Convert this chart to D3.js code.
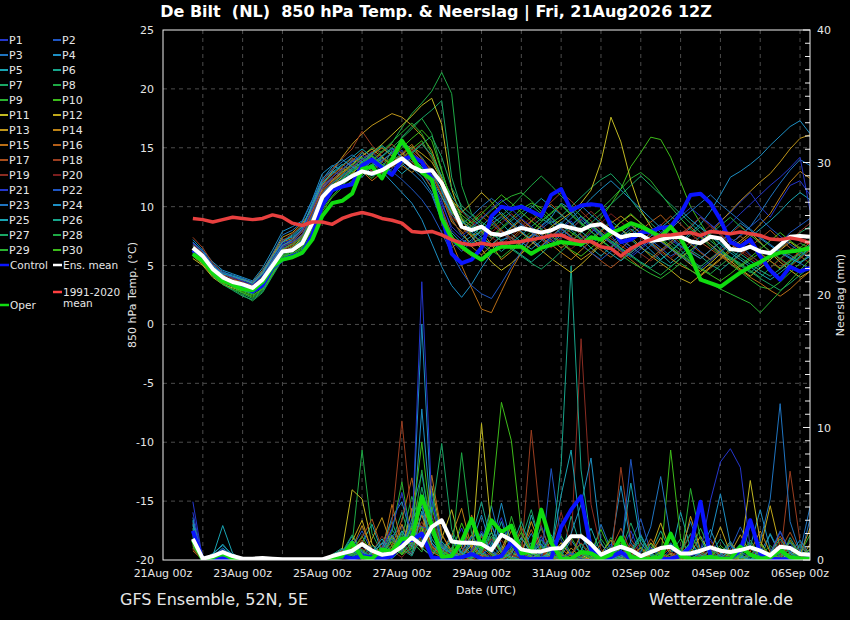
<!DOCTYPE html>
<meta charset="utf-8">
<style>
  body { margin: 0; background: #000; }
  svg text { font-family: "DejaVu Sans", sans-serif; fill: #e6e6e6; }
  .grid line { stroke: #4c4c4c; stroke-dasharray: 4,4; stroke-width: 1; }
</style>
<script src="https://d3js.org/d3.v7.min.js"></script>
<div id="chart"></div>
<script>
// ---- data (6-hourly, first value 21Aug 18z) ----
const firstStep = "2026-08-21T18:00:00Z";
const stepHours = 6;
const dateTicks = ["2026-08-21","2026-08-23","2026-08-25","2026-08-27","2026-08-29",
                   "2026-08-31","2026-09-02","2026-09-04","2026-09-06"];
const tempTicks = [-20,-15,-10,-5,0,5,10,15,20,25];
const precTicks = [0,10,20,30,40];

// 850 hPa temperature, members P1..P30
const tempMembers = [
 [6.8,6.0,4.9,4.2,3.5,3.2,2.8,3.5,5.2,6.5,6.8,7.5,9.2, 11.5,12.4,12.0,13.1,13.8,13.0,12.5,14.2,14.8,13.5,12.8,12.0,10.5, 8.0,7.2,6.8,7.5,8.6,9.1,8.4,7.9,7.0,6.5,7.2,8.1, 8.8,7.5,6.9,7.4,8.2,7.0,6.3,6.8,7.9,8.5,7.2,6.6, 6.0,7.1,8.0,8.8,9.5,10.4,11.2,10.0,9.1,10.5,11.8,12.2,11.0],
 [6.4,5.7,4.5,3.9,3.8,3.6,3.3,4.1,5.4,6.8,7.0,7.9,9.8, 11.9,12.3,13.0,12.4,13.5,13.9,12.8,13.2,14.6,13.8,14.0,12.5,9.8, 7.1,6.2,7.0,8.1,8.7,7.9,7.1,6.8,7.5,8.3,9.0,8.2, 7.4,6.9,7.8,8.5,7.6,6.4,5.9,6.6,7.2,6.5,5.8,6.3, 7.0,6.2,5.5,6.4,7.3,6.8,5.9,5.2,6.0,6.9,7.8,8.4,9.0],
 [6.9,6.2,5.1,4.5,4.1,3.9,3.5,4.4,5.8,7.2,7.4,8.1,10.2, 12.2,13.0,12.6,13.8,14.1,13.3,13.9,14.5,13.7,12.9,12.1,11.0,8.8, 6.5,7.2,7.9,6.8,6.1,7.0,7.8,8.5,7.9,7.3,6.6,7.4, 8.1,8.9,8.2,7.5,6.9,7.6,8.4,7.8,6.9,6.2,6.8,7.5, 8.2,9.1,8.5,7.6,6.9,7.5,8.3,9.5,10.8,12.0,13.1,14.0,13.5],
 [7.2,6.3,5.3,4.6,4.3,4.0,3.7,4.8,6.3,7.9,8.3,8.8,10.6, 12.8,13.5,13.1,14.0,13.2,12.6,13.0,12.1,11.2,10.3,8.9,6.9,4.9, 3.3,2.3,3.4,4.8,6.0,7.2,7.4,6.7,7.5,8.4,9.1,10.3, 9.8,8.7,7.9,7.2,6.5,5.8,6.4,7.1,6.3,5.5,6.2,7.0, 7.8,8.5,9.6,11.0,12.5,13.0,13.6,14.3,15.2,16.0,16.8,17.3,16.2],
 [6.6,5.9,5.0,4.3,3.9,3.5,3.4,4.3,5.6,7.0,7.6,8.4,10.0, 12.0,12.9,13.6,13.0,12.5,13.4,14.1,13.6,12.8,13.5,12.9,11.6,9.4, 7.8,6.9,7.5,8.3,9.2,8.6,7.7,7.0,6.4,7.1,7.9,8.7, 8.0,7.3,6.5,5.8,6.6,7.4,8.1,7.5,6.8,6.0,5.2,5.9, 6.7,7.5,6.8,6.1,5.5,6.3,7.4,8.1,8.8,9.6,10.5,11.2,10.6],
 [7.0,6.1,4.8,4.0,3.4,3.0,2.7,3.3,4.7,6.0,6.4,7.2,9.0, 11.2,12.0,12.7,13.5,14.6,14.0,13.2,14.8,15.5,14.9,14.2,13.0,11.3, 9.0,7.6,6.9,7.3,6.8,6.2,6.9,7.6,8.3,9.0,8.5,7.7, 7.0,6.6,7.3,8.0,8.8,8.1,7.2,6.5,6.0,5.4,4.9,5.6, 6.3,5.8,5.1,4.6,5.3,6.0,5.4,4.8,5.5,6.2,5.9,5.3,5.8],
 [6.3,5.6,4.6,3.7,3.2,2.6,2.2,2.9,4.4,5.8,6.0,6.5,7.8, 10.2,11.5,12.3,13.2,13.8,14.5,15.1,14.3,15.9,16.8,17.5,18.2,19.0, 12.5,9.8,8.6,8.0,7.3,8.1,8.8,9.5,10.1,9.4,8.6,9.2, 10.0,10.8,11.6,12.3,12.8,11.9,10.6,9.5,8.6,7.8,7.0,6.3, 5.5,4.9,5.6,6.2,5.7,5.0,4.4,5.1,5.8,6.5,7.1,7.8,8.3],
 [6.0,5.3,4.2,3.5,3.0,2.5,2.0,2.7,4.1,5.5,6.4,7.5,9.1, 11.0,12.1,13.0,13.9,14.3,15.0,14.6,15.4,16.7,17.9,18.8,19.8,21.4, 19.6,11.8,9.4,8.7,8.1,8.9,9.6,10.2,9.5,8.8,9.4,10.1, 9.3,8.5,7.9,7.1,6.5,7.2,7.9,8.6,8.0,7.3,6.7,6.0, 5.4,4.8,4.3,5.0,5.7,5.2,4.6,4.0,4.8,5.6,6.3,6.9,6.5],
 [6.2,5.5,4.4,3.8,3.3,2.9,2.6,3.2,4.6,5.9,6.2,6.8,8.3, 10.5,11.3,12.0,12.8,13.1,12.4,13.3,13.9,14.5,14.0,13.3,12.6,11.5, 9.9,8.7,8.2,8.9,9.7,10.4,10.9,11.2,10.5,9.6,8.8,8.1, 7.5,8.3,9.1,9.8,10.6,11.5,12.4,12.9,12.2,11.1,10.0,9.0, 8.1,7.4,6.6,5.9,5.1,4.5,3.8,3.2,3.0,3.6,4.4,5.2,6.0],
 [5.9,5.2,4.3,3.6,3.2,2.8,2.5,3.0,4.3,5.6,5.9,6.4,7.6, 9.6,10.8,11.6,12.2,12.7,13.5,14.2,13.4,14.0,14.9,15.6,14.1,12.4, 10.1,8.9,8.4,8.0,7.5,8.2,9.0,9.8,10.3,9.9,9.1,8.4, 7.8,7.2,8.1,9.0,10.2,11.5,13.4,14.6,15.9,15.7,14.2,12.1, 10.0,8.6,7.4,6.3,5.6,4.9,5.5,6.1,5.4,4.7,5.3,6.0,6.4],
 [5.6,5.0,4.0,3.4,3.1,2.9,2.7,3.4,4.8,6.1,6.6,7.3,8.9, 10.9,11.8,12.5,13.3,14.0,14.6,15.3,16.1,16.9,17.7,18.6,19.2,17.0, 11.5,9.0,7.5,6.4,5.3,4.6,5.2,6.0,6.8,7.5,8.3,8.9, 9.5,10.3,11.4,13.8,17.6,15.5,12.2,9.7,8.3,7.2,6.5,5.8, 5.1,4.5,5.2,6.0,5.4,4.7,4.1,4.8,5.5,6.3,7.0,6.4,6.2],
 [6.1,5.4,4.3,3.6,3.4,3.1,2.9,3.6,5.0,6.3,6.9,7.6,9.4, 11.4,12.2,12.9,13.6,14.3,14.9,14.2,13.6,14.4,15.1,14.5,13.8,12.3, 10.6,9.5,10.3,11.2,10.4,9.3,8.5,7.8,7.1,6.3,5.6,5.0, 4.4,5.1,5.9,6.8,7.5,8.1,7.4,6.6,5.8,5.2,4.6,3.9, 3.5,4.2,4.9,5.6,6.4,7.1,7.8,7.0,6.1,5.3,4.6,4.0,4.5],
 [5.8,5.1,4.1,3.6,3.7,3.8,3.5,4.4,5.9,7.4,7.8,8.6,9.8, 11.8,13.0,14.2,15.3,16.2,16.9,17.4,17.9,17.6,16.9,16.0,14.8,12.4, 9.8,8.2,7.5,7.9,6.8,5.5,6.2,7.0,7.6,8.4,7.7,7.0, 6.2,5.5,6.1,6.9,7.8,8.7,9.3,8.6,7.8,7.1,6.4,5.7, 6.3,7.0,7.8,8.7,9.6,10.5,11.3,12.1,12.8,13.8,14.9,15.8,16.1],
 [6.6,5.9,4.8,4.2,4.0,3.8,3.6,4.6,5.9,7.0,7.3,8.0,9.7, 11.6,12.5,13.3,12.8,13.6,14.4,15.0,14.3,13.5,12.9,13.6,12.7,10.9, 8.7,7.9,6.6,5.9,6.7,7.5,8.2,8.9,8.2,7.4,6.8,6.1, 5.5,6.3,7.1,7.9,8.6,9.2,8.5,7.7,7.0,6.3,5.6,5.0, 4.6,4.1,4.8,5.5,6.2,6.9,7.6,8.5,9.4,10.8,12.1,13.0,12.4],
 [6.0,5.3,4.2,3.5,3.3,3.2,3.0,3.8,5.1,6.4,6.8,7.4,9.0, 11.0,12.0,12.8,13.6,13.0,12.2,12.9,13.7,14.5,15.3,14.0,12.1,9.6, 7.0,5.0,3.1,1.3,1.0,2.8,4.6,6.1,7.3,8.0,7.2,6.5, 7.1,7.8,8.5,7.7,6.9,6.2,5.5,4.8,5.6,6.3,7.0,7.7, 8.3,7.5,6.8,6.0,5.2,4.6,4.0,3.5,2.9,2.4,3.0,3.8,4.5],
 [6.7,6.0,4.9,4.1,3.6,3.3,3.0,3.7,5.2,6.7,7.1,7.9,9.6, 11.8,12.7,13.4,14.1,13.7,13.0,13.8,14.6,15.4,14.7,13.9,13.2,11.7, 9.4,8.1,8.8,9.6,8.9,8.0,7.3,8.1,8.8,9.5,10.2,9.4, 8.5,7.6,6.9,6.3,5.7,6.4,7.2,8.0,8.7,9.3,8.4,7.6, 6.8,6.1,5.5,6.2,6.9,7.5,6.8,6.0,5.4,4.8,5.5,6.2,7.0],
 [6.5,5.8,4.6,3.9,3.4,3.1,2.9,3.7,5.1,6.3,6.7,7.5,9.1, 11.2,12.3,13.1,13.9,14.7,13.9,14.6,15.3,14.5,13.8,12.9,11.6,9.9, 7.6,6.4,5.8,6.5,7.2,8.0,7.3,6.6,5.9,6.7,7.5,8.2, 7.5,6.8,6.1,5.4,4.8,5.5,6.2,6.9,7.7,8.4,9.2,8.5, 7.7,7.0,6.4,5.8,5.2,5.9,6.6,7.3,8.0,7.2,6.5,5.8,5.2],
 [7.4,6.5,5.2,4.4,3.8,3.4,3.1,3.9,5.5,7.1,7.7,8.4,10.1, 12.1,13.2,14.1,14.9,16.4,15.2,14.3,13.5,14.2,14.9,14.1,13.0,11.0, 8.9,7.7,8.4,9.2,8.5,7.8,7.1,7.9,8.7,9.6,10.4,11.2, 10.5,9.6,8.8,8.0,7.3,6.7,6.1,6.8,7.5,8.3,7.6,6.9, 6.2,5.6,6.3,7.0,7.7,8.4,7.6,6.9,6.2,5.5,4.9,5.6,6.3],
 [6.8,6.1,5.0,4.3,3.9,3.6,3.3,4.0,5.4,6.6,6.9,7.7,9.4, 11.3,12.1,12.8,13.4,14.0,14.7,14.0,13.3,14.0,14.7,15.4,14.2,12.2, 9.1,8.3,7.6,7.0,7.8,8.6,9.4,8.7,7.9,7.2,6.5,7.3, 8.1,8.9,9.6,8.8,8.0,7.3,6.6,6.0,5.4,6.1,6.8,7.6, 8.4,9.1,8.3,7.6,6.9,6.2,5.6,5.0,5.7,6.4,7.1,7.9,8.6],
 [6.2,5.5,4.4,3.7,3.3,3.0,2.8,3.5,4.9,6.2,6.5,7.1,8.7, 10.6,11.4,12.0,12.6,13.3,14.0,13.4,12.8,13.6,14.4,13.7,13.0,11.9, 10.4,9.6,8.8,8.1,7.4,6.8,7.5,8.3,9.1,8.4,7.7,7.0, 6.4,7.1,7.9,8.6,9.4,8.7,8.0,7.3,6.7,6.1,5.6,6.3, 7.0,7.7,8.4,7.7,7.0,6.4,5.8,5.3,4.8,5.5,6.2,6.9,7.5],
 [6.9,6.2,5.0,4.3,4.0,3.7,3.4,4.2,5.6,6.9,7.2,8.0,9.8, 11.7,12.5,13.2,13.8,14.4,13.7,14.3,14.9,14.2,13.5,12.8,12.1,10.2, 8.3,7.5,8.2,9.0,9.8,10.6,9.8,9.0,8.3,7.6,7.0,7.7, 8.4,9.1,8.3,7.6,6.9,6.3,5.7,6.4,7.1,7.8,8.5,9.2, 9.9,9.2,8.5,7.8,8.6,9.4,10.2,11.0,11.8,12.5,13.3,14.2,9.7],
 [6.3,5.6,4.5,3.8,3.5,3.3,3.1,3.9,5.3,6.6,7.0,7.6,9.3, 11.1,12.0,12.6,13.3,14.0,14.6,13.8,13.0,12.3,11.5,10.6,9.4,7.8, 6.0,4.5,3.3,2.6,2.2,3.5,4.9,6.2,7.4,8.1,8.8,8.1, 7.4,6.8,6.1,5.5,6.2,6.9,7.6,8.3,7.7,7.0,6.4,5.8, 5.2,4.7,5.4,6.1,6.8,7.6,8.3,9.0,8.2,7.5,6.8,6.2,5.6],
 [7.0,6.2,5.0,4.4,4.2,3.9,3.6,4.5,6.0,7.6,8.0,8.7,10.5, 12.4,13.1,13.8,14.4,13.8,13.2,13.9,14.6,15.2,14.5,13.7,12.9,11.4, 9.3,8.5,9.2,10.0,10.7,10.0,9.2,8.5,7.8,7.2,7.9,8.6, 9.4,10.1,9.3,8.6,7.9,7.2,6.6,6.0,6.7,7.4,8.1,8.9, 9.6,10.3,11.0,10.2,9.5,8.8,8.1,7.4,6.8,6.2,5.7,5.2,4.7],
 [6.4,5.8,4.7,4.1,3.7,3.4,3.2,4.0,5.4,6.7,7.2,8.2,10.3, 12.3,13.4,14.0,13.4,12.9,13.6,14.3,15.0,14.2,13.3,12.5,11.2,9.0, 7.2,6.5,7.2,8.0,8.8,9.5,8.7,7.9,7.2,6.6,7.4,8.2, 9.0,9.8,10.7,11.5,12.2,11.4,10.6,9.8,9.0,8.2,7.4,6.7, 6.1,5.6,6.3,7.0,7.8,8.6,8.0,7.3,6.7,6.1,5.6,5.2,5.8],
 [6.7,6.0,4.9,4.3,4.1,3.8,3.5,4.3,5.7,7.0,7.5,8.3,10.1, 12.0,12.8,13.5,14.2,14.9,14.2,13.5,12.8,13.5,14.2,13.4,12.3,10.8, 9.5,8.8,8.1,7.4,6.8,7.5,8.3,9.1,9.9,10.7,10.0,9.3, 8.6,7.9,7.2,6.6,6.0,5.4,6.1,6.8,7.5,8.2,8.9,9.7, 8.9,8.2,7.5,6.8,6.1,5.5,4.9,4.3,3.8,4.4,5.1,5.8,6.5],
 [6.1,5.4,4.3,3.6,3.2,2.9,2.6,3.3,4.8,6.1,6.5,7.2,8.8, 10.7,11.6,12.4,13.1,13.8,14.5,15.2,14.5,13.8,14.6,15.3,14.4,12.6, 10.9,9.7,9.0,8.3,7.7,7.1,6.5,5.9,5.3,6.0,6.8,7.6, 8.4,9.2,8.5,7.8,7.1,6.5,5.9,5.3,4.8,5.5,6.2,6.9, 7.6,8.3,7.6,6.9,6.3,5.7,5.1,4.6,4.1,4.7,5.4,6.1,6.8],
 [6.0,5.3,4.2,3.4,2.9,2.4,2.1,2.8,4.2,5.6,6.1,6.9,8.5, 10.4,11.4,12.3,13.0,13.7,14.4,13.6,12.9,13.7,14.5,15.3,16.0,14.2, 11.6,10.1,9.3,8.5,7.8,7.1,6.4,5.8,5.2,4.7,5.4,6.2, 7.0,7.8,8.6,9.4,10.2,11.0,11.8,12.6,11.8,11.0,10.2,9.4, 8.6,7.8,7.1,6.4,5.7,5.1,4.5,3.9,3.4,2.9,3.5,4.2,4.9],
 [6.4,5.7,4.6,3.9,3.4,3.0,2.7,3.5,5.0,6.4,6.8,7.4,9.0, 10.9,11.9,12.7,13.5,14.2,13.5,14.2,15.0,15.8,16.6,17.5,16.2,13.1, 10.3,9.1,8.3,7.6,8.4,9.2,10.0,10.9,11.8,12.6,11.8,10.9, 10.0,9.2,8.4,7.7,7.0,6.4,5.8,5.2,4.7,4.2,4.9,5.6, 6.3,7.0,7.7,8.4,9.1,8.3,7.6,6.9,6.2,5.6,5.0,5.7,6.4],
 [5.8,5.2,4.1,3.4,3.0,2.7,2.4,3.1,4.5,5.8,6.2,6.7,8.0, 9.8,10.9,11.8,12.5,13.2,13.9,14.7,15.5,16.3,17.1,16.2,14.5,12.0, 9.6,8.4,7.7,7.0,6.3,5.7,6.4,7.1,7.9,8.7,9.5,10.2, 9.4,8.6,7.9,7.2,6.5,5.9,5.3,4.8,4.3,3.9,4.5,5.2, 4.6,4.0,3.5,3.0,2.6,2.2,1.8,1.0,1.9,2.8,3.7,4.6,5.5],
 [6.3,5.6,4.5,3.7,3.2,2.7,2.3,3.0,4.3,5.7,6.0,6.6,8.1, 10.1,11.2,12.0,12.9,13.6,14.3,13.5,14.2,15.0,15.8,16.5,15.6,13.0, 10.5,9.3,8.6,9.4,10.2,11.0,10.3,9.5,8.8,8.1,7.5,6.9, 6.3,5.8,6.5,7.2,8.0,8.7,9.4,8.6,7.9,7.2,6.5,5.9, 5.3,4.7,4.2,3.7,4.3,5.0,5.7,6.4,7.1,7.8,7.1,6.5,7.2]
];
const tempControl = [6.3,5.6,4.5,3.8,3.5,3.2,2.8,3.3,4.8,5.5,5.8,6.1,7.6, 10.1,11.4,11.7,11.9,13.5,14.0,13.3,12.7,14.0,14.3,13.8,12.4,9.2, 6.0,5.2,5.5,6.5,9.2,10.0,9.8,10.0,9.6,9.2,11.0,11.5, 9.7,10.1,10.2,10.1,8.4,7.0,7.2,7.8,7.9,8.2,8.3,9.4, 11.0,11.1,10.3,8.9,7.0,6.6,7.2,5.8,4.6,3.8,4.9,4.5,4.8];
const tempOper = [6.0,5.4,4.4,3.7,3.4,3.0,2.9,3.6,4.9,5.5,5.7,6.1,7.2, 9.2,10.3,10.5,11.1,13.2,13.4,12.4,14.0,15.6,14.3,12.9,12.3,9.0, 7.3,6.6,6.0,5.5,6.2,6.6,6.6,6.6,6.0,6.5,6.75,7.0, 6.9,6.8,7.4,7.2,7.8,8.1,8.6,8.3,7.9,7.45,8.3,7.3, 5.8,3.8,3.5,3.2,3.8,4.4,4.9,5.3,5.8,6.1,6.2,6.3,6.5];
const tempMean = [6.5,5.8,4.7,4.0,3.6,3.4,3.1,3.8,5.0,6.2,6.3,6.9,8.6, 10.8,11.7,12.1,12.6,13.0,12.8,13.1,13.6,14.1,13.4,13.0,13.1,12.0, 10.2,8.3,8.0,8.3,7.7,7.6,7.9,8.2,8.0,7.8,8.0,8.4, 8.2,8.0,8.4,8.5,7.9,7.4,7.6,7.6,7.1,7.2,7.4,7.45, 7.05,6.9,7.45,7.3,6.4,6.3,6.6,6.2,6.05,6.75,7.45,7.5,7.45];
const tempClimate = [9.0,8.9,8.7,8.9,9.1,9.0,8.9,9.0,9.3,9.1,8.6,8.4,8.7, 8.7,8.5,9.0,9.3,9.5,9.3,9.0,8.85,8.6,7.9,7.8,7.9,7.6, 7.2,6.9,6.75,6.9,6.75,6.9,6.95,7.05,7.2,7.35,7.55,7.6, 7.2,7.05,7.05,6.6,6.45,5.8,6.45,6.9,7.2,7.55,7.6,7.7, 7.8,7.55,7.9,7.8,7.7,7.85,7.7,7.55,7.25,7.2,7.35,7.2,6.9];

// precipitation (mm per 6 h), members P1..P30
const precMembers = [
 [4.4,0,0.3,0.8,0.2,0,0,0,0,0,0,0,0, 0,0.2,0.6,1.5,0.4,0,0.3,1.8,2.6,0.9,3.5,1.2,0.4, 0.8,2.4,0.6,0.2,1.5,3.2,0.9,0.1,0,0.4,1.1,0.3, 0.2,1.8,0.5,0,0.1,0.6,2.2,0.4,0,0,0.8,0.3, 0,0.5,1.6,0.2,0,1.2,0.4,0,0.3,2.1,0.6,0,0.2],
 [2.0,0,0.2,0.5,0.1,0,0,0,0,0,0,0,0, 0,0,0.4,0.9,2.2,0.6,0.1,0.7,1.4,0.5,2.1,4.6,1.0, 0.3,0.9,2.8,0.7,0.2,1.0,0.4,0,0.2,2.6,0.5,0.1, 0,0.3,0.9,0.2,0,0,1.4,3.1,0.6,0,0.2,0.5, 1.2,0.3,0,0,0.8,2.5,0.9,0.1,0,0.4,1.3,0.2,0],
 [3.2,0,0.1,0.4,0.3,0,0,0,0,0,0,0,0, 0,0.1,0.3,0.6,1.1,0.3,0.8,2.3,1.2,3.7,6.5,2.0,0.7, 1.9,0.5,0.2,1.3,4.1,1.0,0.3,0,0.5,1.8,0.4,0, 0.6,0.2,0,2.7,0.8,0.1,0,0.3,1.0,0.2,0,0.7, 2.9,0.6,0,0.3,1.1,0.2,0,0.6,1.9,0.4,0.1,0,3.1],
 [2.6,0,0.5,1.1,0.4,0,0,0,0,0,0,0,0, 0,0.3,0.5,1.8,0.6,0.2,0.9,3.2,4.4,1.6,17.8,3.3,1.1, 0.4,0.2,1.2,3.4,0.8,0.1,0,0.6,2.0,0.5,0.1,0.3, 1.5,0.4,0,0.2,0.9,5.6,1.3,0.2,0,0.4,1.2,0.3, 0,0.7,2.3,0.5,0,0.2,1.0,3.8,0.8,0,0.2,0.6,0.4],
 [3.0,0,0.3,2.6,0.5,0,0,0,0,0,0,0,0, 0,0,0.2,0.5,1.3,2.7,0.6,0.4,1.5,2.4,4.0,1.6,0.5, 0.1,1.4,0.4,0,0.7,2.9,0.6,0.2,3.4,1.1,0.3,0, 0.2,0.7,2.4,0.5,0,0.1,0.8,1.9,0.4,0,0.2,3.6, 0.9,0.2,0,0.5,1.4,0.3,0,0,2.0,0.5,0.1,0.7,0.3],
 [1.8,0,0.1,0.2,0,0,0,0,0,0,0,0,0, 0,0.4,0.9,0.3,0.1,0.5,1.2,2.9,0.8,0.3,1.9,5.2,1.4, 0.6,0.2,1.7,4.4,1.2,0.3,0,0.4,1.3,0.5,0.1,0, 3.3,0.9,0.2,0,0.3,1.1,0.4,0,0.5,2.2,0.6,0.1, 0,0,0.4,1.6,0.5,0.1,0,0.9,0.3,0,1.7,0.4,0.2],
 [2.4,0,0,0.3,0.1,0,0,0,0,0,0,0,0, 0,0,0.6,1.9,0.7,0.2,0.4,1.4,3.6,1.2,5.5,2.2,0.8, 0.3,0.9,0.2,0.6,2.1,0.5,0.1,1.5,3.8,1.0,0.2,0, 0.4,1.2,0.3,0,0,0.6,2.8,0.8,0.1,0,0.5,1.6, 0.4,0,0.2,0.9,0.2,0,2.6,0.7,0.1,0,0.3,1.2,0.4],
 [1.4,0,0.2,0.4,0.1,0,0,0,0,0,0,0,0, 0,0.2,0.5,1.2,8.3,2.0,0.5,0.3,1.7,4.8,2.3,0.7,0.2, 1.5,0.4,0.1,0.9,2.7,0.6,0.2,0,0.8,2.4,0.6,0.1, 0,0.3,1.3,0.4,0,0.2,0.9,0.3,0,0.6,2.0,0.5, 0.1,0,0.8,0.3,0,0.4,1.5,0.4,0,0.2,0.9,0.2,0],
 [1.6,0,0.1,0.3,0,0,0,0,0,0,0,0,0, 0,0,0.3,0.8,0.3,0.1,0.7,2.1,5.9,1.4,0.6,3.0,1.2, 0.4,0.1,0.6,2.0,0.5,0.1,3.3,0.9,0.2,0,0.5,1.8, 0.5,0.1,0,0.4,1.7,0.5,0,0.2,0.8,0.2,0,0.3, 1.4,0.4,0,0,0.6,0.2,0,0.3,1.1,0.3,0,0.5,1.9],
 [1.3,0,0,0.2,0,0,0,0,0,0,0,0,0, 0,0.1,0.2,0.7,1.8,0.4,0.2,0.9,2.2,0.8,1.5,4.0,1.1, 0.5,2.8,0.9,0.3,4.2,11.9,9.0,2.1,0.5,0.1,0.9,0.3, 0.1,0,0.6,2.3,0.6,0.1,0,1.0,0.3,0,8.3,1.6, 0.2,0,0.3,1.1,0.4,0,0,0.5,0.2,0,0.4,1.0,0.3],
 [0.9,0,0,0.1,0,0,0,0,0,0,0,0,0, 0,0.3,0.8,5.3,4.6,1.2,0.5,0.3,1.1,2.4,0.9,0.3,1.6, 3.8,0.9,0.4,10.3,2.1,0.5,0.2,0.8,0.3,0,0.6,0.2, 0.1,0.4,0,0,0.2,0.7,0.3,0,1.3,0.4,0.1,0, 0.5,1.8,0.4,0,0,0.3,6.0,1.4,0.2,0,0.6,0.3,0.1],
 [1.1,0,0.1,0.2,0,0,0,0,0,0,0,0,0, 0,0,0.2,1.4,3.0,0.6,0.2,1.8,0.7,3.9,2.0,5.6,1.9, 0.7,0.3,1.1,0.4,0.1,0.8,2.6,0.7,0.2,0,0.4,1.3, 0.3,0,0,0.5,1.5,0.4,0.1,0,0.7,2.8,0.6,0.1, 0,0.2,0.7,2.5,0.5,0,0,0.8,4.1,0.9,0.2,0,1.2],
 [1.9,0,0.3,0.6,0.2,0,0,0,0,0,0,0,0, 0,0.2,0.5,1.0,0.4,1.6,3.2,1.0,0.4,1.3,3.4,1.1,0.3, 0.2,0.6,1.9,0.6,0.1,0.3,1.2,0.4,2.9,0.8,0.2,0, 0.9,0.2,0,0.3,0.6,0.2,0,0,0.4,1.7,0.4,0.1, 3.3,0.8,0.1,0,0.5,1.9,0.5,0,0,0.3,1.0,0.4,2.4],
 [0.7,0,0,0.2,0,0,0,0,0,0,0,0,0, 0,0,0.3,0.9,2.6,0.8,0.2,0.6,2.7,1.0,4.4,2.1,0.6, 1.8,3.9,0.9,0.3,0,0.6,2.2,0.6,0.1,0.5,1.4,0.4, 0.1,0,0.2,1.2,0.3,0,0.3,0.9,0.2,0,0.5,0.2, 0,0.4,1.1,0.3,0,0,0.6,2.2,0.6,0.1,0,0.3,0.8],
 [1.5,0,0.2,0.4,0.1,0,0,0,0,0,0,0,0, 0,0.1,0.4,1.2,0.3,0.1,0.5,4.2,1.2,2.3,0.8,6.4,2.0, 0.5,0.2,3.4,1.0,0.3,0,0.6,1.7,0.5,0.1,0,0.8, 0.3,2.0,0.5,0.1,0,0.4,1.1,0.3,0,0,0.2,0.9, 0.2,0,0,0.6,0.2,0,0.3,0.8,0.2,0,1.5,0.4,0],
 [2.2,0,0.1,0.3,0.1,0,0,0,0,0,0,0,0, 0,0.3,0.7,0.4,1.5,0.5,0.2,1.1,3.0,6.2,1.8,0.6,0.2, 0.9,0.3,0,0.4,1.6,0.5,0.1,0.7,2.3,0.6,0.2,0, 0.4,0.1,0.9,0.3,0,0,0.6,0.2,1.6,0.5,0.1,0, 0.8,0.2,0,0.3,1.3,0.4,0,0,0.6,1.8,0.5,0.1,0],
 [1.2,0,0,0.1,0,0,0,0,0,0,0,0,0, 0,0,0.2,0.6,1.7,3.1,0.8,0.3,0.9,0.4,2.6,1.0,0.3, 0.1,0.5,1.3,0.4,0.1,0,0.4,2.5,0.7,0.2,0.9,0.3, 0,0.6,0.2,0,0.8,2.4,0.6,0.1,0,0.3,0.9,0.3, 0,0,0.5,0.2,0,0.9,0.3,0,0.2,0.7,2.1,0.6,0.2],
 [2.8,0,0.2,0.5,0.1,0,0,0,0,0,0,0,0, 0,0.2,0.4,0.9,0.4,0.1,0.6,2.9,10.5,3.0,1.2,0.4,0.9, 0.3,0.1,0.6,1.8,0.5,0.2,0.8,0.3,9.8,2.4,0.6,0.2, 0.5,1.3,0.4,0.1,0,7.0,1.6,0.4,0.1,0,0.3,0.2, 0,0.3,0.8,0.3,0,0,0.4,1.2,0.3,0.1,6.7,1.4,0.3],
 [1.0,0,0.1,0.3,0,0,0,0,0,0,0,0,0, 0,0.1,0.3,0.5,0.2,0.6,1.8,0.7,0.2,1.1,2.9,0.9,0.3, 0.2,0.9,0.3,0.1,0.6,1.5,0.4,0.1,0,0.3,0.8,3.6, 1.1,16.7,4.2,0.8,0.2,0,0.4,1.3,0.4,0.1,0,0.5, 1.9,0.5,0.1,0,0.3,0.9,0.3,0,0.4,1.4,0.4,0,0.2],
 [0.8,0,0,0.2,0,0,0,0,0,0,0,0,0, 0,0,0.1,0.4,0.9,0.3,0.1,0.5,1.4,0.5,1.7,3.5,0.8, 0.3,0.1,0,0.5,1.6,0.5,0.1,0,0.7,1.9,0.5,0.1, 0,0.3,1.1,0.3,0,0.4,1.2,0.3,0,0,0.6,0.2, 0,0.5,1.4,0.4,0.1,0,0.3,0.8,0.2,0,0.4,1.1,0.3],
 [3.6,0,0.2,0.4,0.1,0,0,0,0,0,0,0,0, 0,0.2,0.5,1.3,0.5,0.2,0.9,2.4,5.1,1.7,21.0,4.5,1.2, 0.4,0.1,0.7,2.2,0.6,0.2,1.1,0.4,0.1,1.6,0.6,0.2, 0.5,0.1,0,0.4,1.2,0.3,0,0.2,0.9,0.3,0,0.5, 0.3,0.6,4.5,7.4,8.4,7.0,0.9,0.3,0,0.6,0.2,0,0.4],
 [2.1,0,0.1,0.3,0,0,0,0,0,0,0,0,0, 0,0,0.2,0.7,0.3,0.1,0.4,1.6,0.6,2.8,2.5,2.3,0.7, 0.2,0.6,1.8,0.5,0.1,0.4,1.3,0.4,0.1,0,6.9,1.5, 0.4,0.2,0.8,0.3,0,0.5,7.6,1.8,0.4,0.1,0,0.2, 0.6,0.2,0,0.3,1.1,0.3,0,0,0.5,2.2,0.6,0.1,0.3],
 [2.9,0,0.2,0.7,0.2,0,0,0,0,0,0,0,0, 0,0.1,0.6,1.5,0.6,0.2,0.7,1.9,0.8,3.1,4.2,1.3,0.4, 0.9,0.3,0.1,0.8,2.6,0.7,0.2,0,0.5,1.2,0.4,0.1, 0,0.5,0.2,0,0.3,1.0,0.3,0.6,2.5,6.3,1.7,0.4, 0.1,0,0.9,0.3,0,0.6,0.2,1.4,4.6,11.8,2.9,0.6,4.0],
 [2.3,0,0.3,0.9,0.3,0,0,0,0,0,0,0,0, 0,0.2,0.4,0.8,0.2,0.5,1.3,0.4,2.2,1.0,11.4,2.8,0.9, 0.5,0.2,1.4,0.4,0.9,4.3,1.1,0.3,0.1,0.6,1.9,0.5, 2.0,4.2,7.7,1.3,0.1,0.3,0.9,0.3,0,0.4,1.3,0.3, 0,0.6,1.7,5.0,1.2,0.3,0,0.4,0.2,0,0.5,1.5,0.4],
 [2.7,0,0.4,1.2,0.3,0,0,0,0,0,0,0,0, 0,0.3,0.8,0.4,0.1,0.6,1.6,0.5,1.2,0.4,3.7,1.3,0.5, 1.6,0.5,0.2,2.0,0.6,0.1,0.5,1.7,0.5,0.2,0.6,4.9, 8.3,1.9,0.5,0.2,0,0.6,5.8,1.3,0.3,0.1,0,0.4, 1.3,0.4,0,0.2,0.7,0.2,0,0.9,0.3,0,0.3,1.1,0.3],
 [1.7,0,0.2,0.6,0.2,0,0,0,0,0,0,0,0, 0,0.1,0.3,0.6,0.2,1.1,0.4,0.1,0.8,2.6,0.9,0.3,1.4, 0.4,0.1,0.5,1.3,0.4,0.2,0.9,2.9,0.8,0.2,0.4,7.2, 22.2,6.8,1.4,0.3,0,0.2,0.6,1.8,0.5,0.1,0,0.3, 0.9,0.3,0,0.4,1.2,0.4,0.1,0,0.5,1.6,0.5,0.1,0],
 [1.2,0,0.1,0.2,0,0,0,0,0,0,0,0,0, 0,0,0.1,0.4,1.2,0.4,0.1,0.7,2.0,0.6,1.5,3.4,8.8, 2.3,0.6,0.2,0.8,2.1,0.5,0.1,0,0.4,1.5,0.4,0.1, 0,0.2,1.0,0.3,0,0,0.5,1.6,0.4,0.1,0,0.6, 2.0,0.6,0.1,0,0.4,1.2,0.4,0.1,0,0.3,0.8,0.2,0],
 [1.5,0,0.2,0.3,0.1,0,0,0,0,0,0,0,0, 0,0.2,0.5,0.3,0.8,0.2,0.6,1.7,0.5,1.3,6.8,2.0,0.6, 0.3,8.1,2.0,0.5,0.1,0.3,1.2,0.3,0,0.5,1.7,0.5, 0.1,0,0.5,1.6,0.5,0.1,0,0.3,1.2,0.3,0,0.2, 0.7,2.4,0.7,0.1,0,0.4,1.3,0.4,0.1,0,0.2,0.6,0.2],
 [1.0,0,0,0.1,0,0,0,0,0,0,0,0,0, 0,0,0.2,0.5,0.2,0.1,0.3,1.1,0.4,0.9,2.5,0.8,0.3, 0.9,0.3,0.1,0.6,1.8,0.5,0.1,0,0.3,1.0,0.3,0, 0.2,0.7,0.2,0,0.3,0.9,0.3,0,0.2,0.6,0.2,0, 5.4,1.6,0.4,0.1,0,0.3,1.0,0.3,0,0.5,1.4,0.4,0.1],
 [1.3,0,0.1,0.4,0.1,0,0,0,0,0,0,0,0, 0,0.1,0.4,0.9,0.3,0.1,0.5,1.4,0.4,2.6,8.9,2.2,0.7, 0.3,0.1,0.5,1.4,0.4,0.1,0.7,2.1,0.6,0.2,0,0.5, 1.7,0.5,0.1,0,0.4,1.3,0.4,0.1,0,0.6,1.9,0.5, 0.1,0,0.3,0.9,0.3,0,0.4,1.2,0.4,0.1,0,0.3,0.8]
];
const precControl = [2.2,0,0.05,0.1,0,0,0,0,0,0,0,0,0, 0,0.1,0.3,0.1,0.3,0.2,0.1,0.3,1.4,1.5,2.0,0.2,0.1, 0.1,0.2,0.45,0.1,0.1,0.3,1.4,0.2,0.05,0.1,0.1,2.5, 3.8,4.8,0.8,0.15,0.2,0.6,0.1,0.05,0.05,0.05,0.1,0.3, 1.0,4.4,0.25,0.1,0.1,0.75,3.0,0.5,0.1,0.05,0.05,0.1,0.1];
const precOper = [1.5,0,0.2,0.5,0.1,0,0.05,0,0,0,0,0,0, 0,0.1,0.3,1.3,0.2,0.1,0.8,0.6,1.6,1.6,4.8,2.6,0.25, 0.3,1.4,3.1,1.0,3.0,2.1,2.6,0.5,0.6,3.8,1.3,0.1, 0.1,0.6,0.5,0.1,0.4,1.7,0.2,0.1,0.1,0.2,2.0,0.3, 0.1,0.1,0.25,0.1,0.1,1.0,0.4,0.1,0.2,0.75,0.2,0.1,0.1];
const precMean = [1.6,0.1,0.3,0.6,0.3,0.1,0.1,0.15,0.1,0.05,0.05,0.05,0.05, 0.05,0.3,0.5,0.7,1.2,0.7,0.4,0.5,1.0,1.7,1.1,2.5,3.0, 1.4,1.3,1.3,1.2,0.75,1.9,1.5,0.8,0.65,0.65,0.85,0.9, 1.8,1.8,1.2,0.4,0.75,1.0,0.75,0.3,0.6,0.9,1.0,0.5, 0.5,0.7,0.95,0.7,0.6,0.75,0.95,0.7,0.35,1.0,0.9,0.45,0.4];

const memberColors = ["#2436cc","#1f56c2","#1f74c0","#1d8fc4","#19a4b2","#17a58b","#19a665","#1ea945",
                      "#2ab230","#3dbc1a","#c2ba22","#c1a81a","#bf961a","#bd8216","#ba6e16","#b45e18",
                      "#a84e1c","#9b3e20","#8a2c22","#7a1e1e"];

// ---- layout ----
const W = 850, H = 620;
const plot = {left: 163, right: 810, top: 30, bottom: 560};

const svg = d3.select("#chart").append("svg")
  .attr("width", W).attr("height", H)
  .style("background", "#000");

const t0 = new Date(firstStep);
const times = tempMean.map((d, i) => new Date(+t0 + i * stepHours * 3600e3));

const x = d3.scaleUtc()
  .domain([new Date("2026-08-21T00:00:00Z"), new Date("2026-09-06T06:00:00Z")])
  .range([plot.left, plot.right]);
const yT = d3.scaleLinear().domain([-20, 25]).range([plot.bottom, plot.top]);
const yP = d3.scaleLinear().domain([0, 40]).range([plot.bottom, plot.top]);

// grid
const grid = svg.append("g").attr("class", "grid");
grid.selectAll(".gh").data(tempTicks.filter(v => v > -20 && v < 25)).join("line")
  .attr("x1", plot.left).attr("x2", plot.right)
  .attr("y1", d => yT(d)).attr("y2", d => yT(d));
const dayLines = d3.utcDay.range(new Date("2026-08-22T00:00:00Z"), new Date("2026-09-06T01:00:00Z"));
grid.selectAll(".gv").data(dayLines).join("line")
  .attr("x1", d => x(d)).attr("x2", d => x(d))
  .attr("y1", plot.top).attr("y2", plot.bottom);

svg.append("clipPath").attr("id", "clip").append("rect")
  .attr("x", plot.left).attr("y", plot.top)
  .attr("width", plot.right - plot.left).attr("height", plot.bottom - plot.top);

const gLines = svg.append("g").attr("clip-path", "url(#clip)");
const lineT = d3.line().defined((d, i) => i < times.length).x((d, i) => x(times[i])).y(d => yT(d));
const lineP = d3.line().defined((d, i) => i < times.length).x((d, i) => x(times[i])).y(d => yP(d));
const memberColor = i => memberColors[i % 20];

// members (precip first, then temperature)
precMembers.forEach((s, i) => {
  gLines.append("path").attr("d", lineP(s)).attr("fill", "none")
    .attr("stroke", memberColor(i)).attr("stroke-width", 1);
});
tempMembers.forEach((s, i) => {
  gLines.append("path").attr("d", lineT(s)).attr("fill", "none")
    .attr("stroke", memberColor(i)).attr("stroke-width", 1);
});

function thick(path, color, w) {
  gLines.append("path").attr("d", path).attr("fill", "none")
    .attr("stroke", color).attr("stroke-width", w || 4)
    .attr("stroke-linejoin", "round");
}
thick(lineP(precControl), "#0a14ff");
thick(lineP(precOper), "#10dc10");
thick(lineP(precMean), "#ffffff");
thick(lineT(tempControl), "#0a14ff");
thick(lineT(tempOper), "#10dc10");
thick(lineT(tempMean), "#ffffff");
thick(lineT(tempClimate), "#e8403f", 3.5);

// frame
svg.append("rect")
  .attr("x", plot.left).attr("y", plot.top)
  .attr("width", plot.right - plot.left).attr("height", plot.bottom - plot.top)
  .attr("fill", "none").attr("stroke", "#f0f0f0").attr("stroke-width", 1);

// left axis
const gl = svg.append("g");
gl.selectAll("text").data(tempTicks).join("text")
  .attr("x", plot.left - 9).attr("y", d => yT(d) + 4)
  .attr("text-anchor", "end").attr("font-size", 11)
  .text(d => d);

// right axis (minor every 1 mm)
const gr = svg.append("g");
gr.selectAll("line").data(d3.range(0, 41)).join("line")
  .attr("x1", d => plot.right - (d % 10 === 0 ? 7 : 5)).attr("x2", plot.right)
  .attr("y1", d => yP(d)).attr("y2", d => yP(d))
  .attr("stroke", "#f0f0f0");
gr.selectAll("text").data(precTicks).join("text")
  .attr("x", plot.right + 7).attr("y", d => yP(d) + 4)
  .attr("font-size", 11)
  .text(d => d);

// bottom axis
const fmt = d3.utcFormat("%d%b %Hz");
const gb = svg.append("g");
gb.selectAll("text").data(dateTicks).join("text")
  .attr("x", d => x(new Date(d + "T00:00:00Z"))).attr("y", plot.bottom + 17)
  .attr("text-anchor", "middle").attr("font-size", 11)
  .text(d => fmt(new Date(d + "T00:00:00Z")));

svg.append("text").attr("x", 486).attr("y", 594)
  .attr("text-anchor", "middle").attr("font-size", 11).text("Date (UTC)");

svg.append("text")
  .attr("transform", "translate(136,295) rotate(-90)")
  .attr("text-anchor", "middle").attr("font-size", 11)
  .text("850 hPa Temp. (°C)");
svg.append("text")
  .attr("transform", "translate(844,295) rotate(-90)")
  .attr("text-anchor", "middle").attr("font-size", 11)
  .text("Neerslag (mm)");

// title + footer
svg.append("text").attr("x", 436).attr("y", 17)
  .attr("text-anchor", "middle").attr("font-size", 16).attr("font-weight", "bold")
  .style("fill", "#ffffff").style("white-space", "pre")
  .text("De Bilt  (NL)  850 hPa Temp. & Neerslag | Fri, 21Aug2026 12Z");
svg.append("text").attr("x", 120).attr("y", 605)
  .attr("font-size", 16).text("GFS Ensemble, 52N, 5E");
svg.append("text").attr("x", 793).attr("y", 605)
  .attr("text-anchor", "end").attr("font-size", 16).text("Wetterzentrale.de");

// legend
const legend = svg.append("g");
tempMembers.forEach((s, i) => {
  const col = i % 2, row = Math.floor(i / 2);
  const lx = col === 0 ? 0 : 53, ly = 40 + row * 15;
  legend.append("line").attr("x1", lx).attr("x2", lx + 8).attr("y1", ly).attr("y2", ly)
    .attr("stroke", memberColor(i)).attr("stroke-width", 2);
  legend.append("text").attr("x", lx + 9).attr("y", ly + 4).attr("font-size", 11)
    .text("P" + (i + 1));
});
const extras = [
  {lx: 0, ly: 265, color: "#0a14ff", label: ["Control"]},
  {lx: 53, ly: 265, color: "#ffffff", label: ["Ens. mean"]},
  {lx: 53, ly: 292, color: "#ff4040", label: ["1991-2020", "mean"]},
  {lx: 0, ly: 305, color: "#10dc10", label: ["Oper"]}
];
extras.forEach(e => {
  legend.append("line").attr("x1", e.lx).attr("x2", e.lx + 9).attr("y1", e.ly).attr("y2", e.ly)
    .attr("stroke", e.color).attr("stroke-width", 2.5);
  e.label.forEach((t, k) => {
    legend.append("text").attr("x", e.lx + 10).attr("y", e.ly + 4 + k * 11)
      .attr("font-size", 10.5).text(t);
  });
});
</script>
